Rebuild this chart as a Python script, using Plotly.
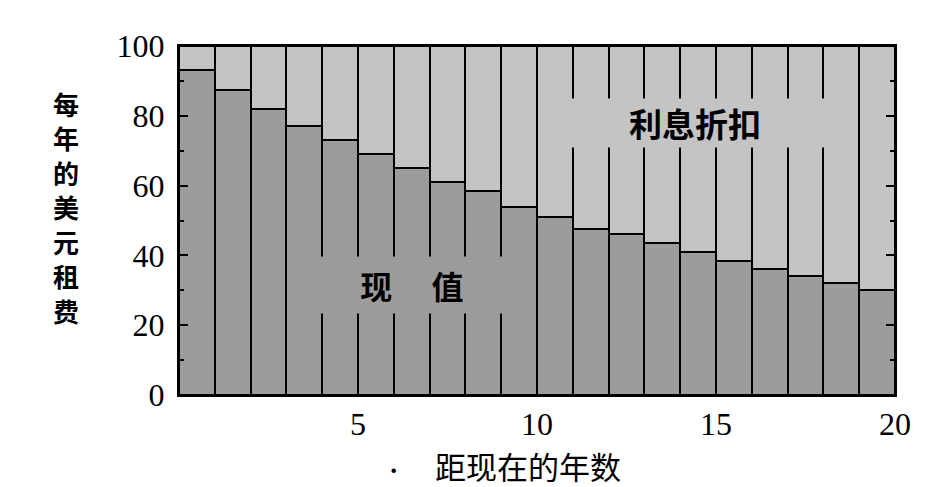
import plotly.graph_objects as go

# years from now (1..20) and the present value of 100 dollars rent in each year
years = list(range(1, 21))
present_value = [93, 87.5, 82, 77, 73, 69, 65, 61, 58.5, 54,
                 51, 47.5, 46, 43.5, 41, 38.5, 36, 34, 32, 30]
rent_total = 100
discount = [rent_total - v for v in present_value]

x_ticks = [5, 10, 15, 20]
y_ticks = [0, 20, 40, 60, 80, 100]
y_title = "每年的美元租费"

dark_gray = "#9c9c9c"
light_gray = "#c4c4c4"
serif = "Liberation Serif, Times New Roman, serif"
cjk = "Noto Sans CJK SC, sans-serif"

fig = go.Figure()
fig.add_trace(go.Bar(
    x=[y - 0.5 for y in years], y=present_value, width=1,
    marker=dict(color=dark_gray, line=dict(color="black", width=2)),
    name="现值",
))
fig.add_trace(go.Bar(
    x=[y - 0.5 for y in years], y=discount, width=1,
    marker=dict(color=light_gray, line=dict(color="black", width=2)),
    name="利息折扣",
))

# labels inside the chart (background breaks the bar edges like the original)
fig.add_annotation(x=6.5, y=31.5, text="<b>现　 值</b>", showarrow=False,
                   font=dict(family=cjk, size=32, color="black"),
                   bgcolor=dark_gray, width=192, height=56, borderpad=0)
fig.add_annotation(x=14.4, y=78, text="<b>利息折扣</b>", showarrow=False,
                   font=dict(family=cjk, size=33, color="black"),
                   bgcolor=light_gray, width=262, height=48, borderpad=0)

# vertical y title, one character per line
for i, ch in enumerate(y_title):
    fig.add_annotation(xref="paper", yref="paper", x=-0.158,
                       y=(292 - i * 34.5) / 349,
                       text="<b>" + ch + "</b>", showarrow=False,
                       font=dict(family=cjk, size=26, color="black"),
                       xanchor="center", yanchor="middle")
# x title
fig.add_annotation(xref="paper", yref="paper", x=0.487, y=-0.203,
                   text="距现在的年数", showarrow=False,
                   font=dict(family=cjk, size=31, color="black"),
                   xanchor="center", yanchor="middle")
fig.add_annotation(xref="paper", yref="paper", x=0.30, y=-0.215,
                   text="<b>·</b>", showarrow=False,
                   font=dict(family=serif, size=28, color="black"),
                   xanchor="center", yanchor="middle")

# page body keeps an 8px margin, so the figure is 8px smaller
fig.update_layout(
    width=923, height=479,
    margin=dict(l=171, r=36, t=38, b=92),
    barmode="stack", bargap=0,
    showlegend=False,
    paper_bgcolor="white", plot_bgcolor="white",
    xaxis=dict(range=[0, 20], tickvals=x_ticks, ticks="", automargin=False,
               showline=True, linecolor="black", linewidth=2, mirror=True,
               showgrid=False, zeroline=False,
               tickfont=dict(family=serif, size=32, color="black")),
    yaxis=dict(range=[0, 100], tickvals=y_ticks, ticks="inside",
               automargin=False, ticklabelstandoff=6,
               ticklen=9, tickwidth=2, tickcolor="black",
               minor=dict(dtick=10, ticks="inside", ticklen=5, tickwidth=2,
                          tickcolor="black"),
               showline=True, linecolor="black", linewidth=2, mirror="ticks",
               showgrid=False, zeroline=False,
               tickfont=dict(family=serif, size=32, color="black")),
)

fig.write_html("out.html")
